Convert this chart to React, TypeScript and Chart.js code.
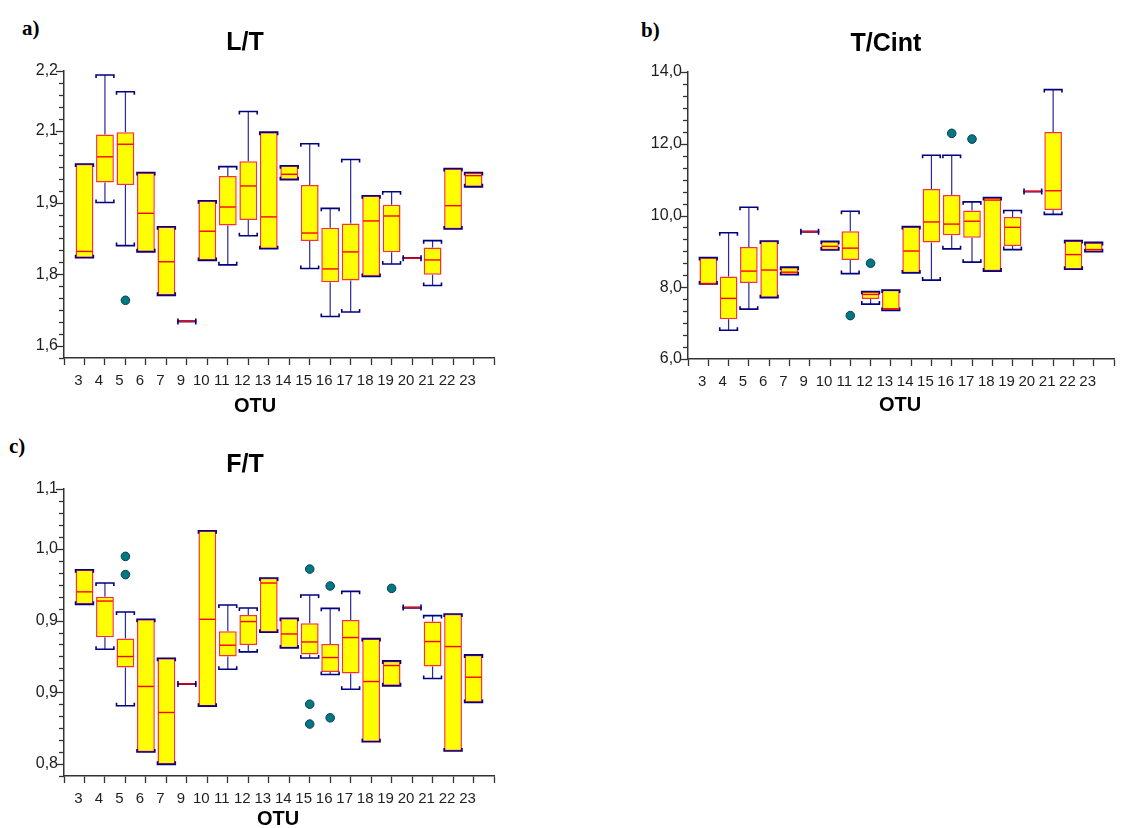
import React, { useEffect, useRef } from 'react';
import { Chart, registerables } from 'chart.js';

Chart.register(...registerables);

// ---------- data ----------
const OTU = ['3', '4', '5', '6', '7', '9', '10', '11', '12', '13', '14', '15', '16', '17', '18', '19', '20', '21', '22', '23'];

// a) L/T
const LT_LO = [1.797, 1.920, 1.824, 1.810, 1.713, 1.655, 1.791, 1.781, 1.846, 1.817, 1.971, 1.773, 1.666, 1.676, 1.755, 1.783, 1.796, 1.735, 1.861, 1.955];
const LT_Q1 = [1.797, 1.9645, 1.959, 1.810, 1.713, 1.655, 1.791, 1.869, 1.881, 1.817, 1.971, 1.834, 1.742, 1.746, 1.755, 1.809, 1.796, 1.759, 1.861, 1.955];
const LT_MED = [1.811, 2.022, 2.050, 1.896, 1.788, 1.655, 1.856, 1.910, 1.957, 1.888, 1.983, 1.852, 1.772, 1.810, 1.879, 1.890, 1.796, 1.792, 1.913, 1.980];
const LT_Q3 = [2.006, 2.072, 2.077, 1.987, 1.866, 1.655, 1.924, 1.979, 2.012, 2.077, 2.002, 1.959, 1.864, 1.873, 1.935, 1.915, 1.796, 1.820, 1.996, 1.987];
const LT_HI = [2.006, 2.2045, 2.167, 1.987, 1.866, 1.655, 1.924, 2.000, 2.123, 2.077, 2.002, 2.051, 1.907, 2.016, 1.935, 1.944, 1.796, 1.835, 1.996, 1.987];
const LT_OUT_OTU = ['5'];
const LT_OUT_VAL = [1.702];
const LT_TICK_VALUES = [1.6, 1.76, 1.92, 2.08, 2.21333];
const LT_TICK_LABELS = ['1,6', '1,8', '1,9', '2,1', '2,2'];
const LT_RANGE = [1.57333, 2.21333];

// b) T/Cint
const TC_LO = [8.09, 6.80, 7.39, 7.71, 8.35, 9.55, 9.04, 8.38, 7.53, 7.35, 8.40, 8.20, 9.07, 8.70, 8.45, 9.05, 10.67, 10.03, 8.50, 8.99];
const TC_Q1 = [8.09, 7.11, 8.12, 7.71, 8.35, 9.55, 9.04, 8.76, 7.67, 7.35, 8.40, 9.25, 9.45, 9.38, 8.45, 9.15, 10.67, 10.15, 8.50, 8.99];
const TC_MED = [8.10, 7.69, 8.45, 8.48, 8.42, 9.55, 9.14, 9.09, 7.80, 7.40, 9.01, 9.82, 9.76, 9.84, 10.43, 9.67, 10.67, 10.69, 8.91, 9.05];
const TC_Q3 = [8.83, 8.30, 9.12, 9.29, 8.56, 9.55, 9.28, 9.56, 7.88, 7.92, 9.69, 10.74, 10.57, 10.14, 10.50, 9.96, 10.67, 12.33, 9.30, 9.25];
const TC_HI = [8.83, 9.52, 10.23, 9.29, 8.56, 9.55, 9.28, 10.12, 7.88, 7.92, 9.69, 11.68, 11.68, 10.38, 10.50, 10.14, 10.67, 13.51, 9.30, 9.25];
const TC_OUT_OTU = ['11', '12', '16', '17'];
const TC_OUT_VAL = [7.21, 8.67, 12.29, 12.13];
const TC_TICK_VALUES = [6, 8, 10, 12, 14];
const TC_TICK_LABELS = ['6,0', '8,0', '10,0', '12,0', '14,0'];
const TC_RANGE = [6, 14];

// c) F/T
const FT_LO = [0.9558, 0.912, 0.8568, 0.8117, 0.7997, 0.8782, 0.8565, 0.8925, 0.9094, 0.9286, 0.9133, 0.9035, 0.8874, 0.873, 0.8217, 0.8763, 0.9526, 0.8835, 0.8127, 0.8601];
const FT_Q1 = [0.9558, 0.9237, 0.8942, 0.8117, 0.7997, 0.8782, 0.8565, 0.9049, 0.9162, 0.9286, 0.9133, 0.9068, 0.8899, 0.8883, 0.8217, 0.8763, 0.9526, 0.8952, 0.8127, 0.8601];
const FT_MED = [0.968, 0.959, 0.9049, 0.8757, 0.8503, 0.8782, 0.9412, 0.9159, 0.939, 0.9766, 0.9269, 0.9191, 0.9039, 0.9234, 0.8805, 0.8961, 0.9526, 0.9195, 0.9146, 0.8847];
const FT_Q3 = [0.9896, 0.9633, 0.9224, 0.9412, 0.9032, 0.8782, 1.0276, 0.9295, 0.9454, 0.9815, 0.9422, 0.9373, 0.9172, 0.9406, 0.9224, 0.9006, 0.9526, 0.939, 0.9464, 0.9065];
const FT_HI = [0.9896, 0.9766, 0.9483, 0.9412, 0.9032, 0.8782, 1.0276, 0.9552, 0.9522, 0.9815, 0.9422, 0.9649, 0.9519, 0.9685, 0.9224, 0.9006, 0.9526, 0.9448, 0.9464, 0.9065];
const FT_OUT_OTU = ['5', '5', '15', '15', '15', '16', '16', '19'];
const FT_OUT_VAL = [1.0026, 0.9848, 0.9902, 0.8584, 0.839, 0.9737, 0.8451, 0.9714];
const FT_TICK_VALUES = [0.8, 0.87, 0.94, 1.01, 1.06833];
const FT_TICK_LABELS = ['0,8', '0,9', '0,9', '1,0', '1,1'];
const FT_RANGE = [0.78833, 1.06833];

// ---------- styling ----------
const SANS = "'Liberation Sans', Arial, sans-serif";
const SERIF = "'Liberation Serif', 'Times New Roman', serif";
const BOX_FILL = '#FFFF00';
const BOX_EDGE = '#FF3030';
const MEDIAN = '#FF0000';
const WHISKER = '#2a2a9a';
const CAP = '#000080';
const OUTLIER = '#00797c';
const AXIS = '#333333';
const TEXT = '#1e1e1e';
const BAR_FRAC = 0.87;

type Spec = {
  lo: number[]; q1: number[]; med: number[]; q3: number[]; hi: number[];
  outOtu: string[]; outVal: number[];
  tickValues: number[]; tickLabels: string[]; range: number[];
  left: number; top: number; width: number; height: number; padTop: number; padRight: number;
};

function BoxPanel({ spec }: { spec: Spec }) {
  const ref = useRef<HTMLCanvasElement | null>(null);
  useEffect(() => {
    if (!ref.current) return;
    const n = OTU.length;
    const minor = (spec.tickValues[1] - spec.tickValues[0]) / 6;
    const majorIndex = (v: number) => spec.tickValues.findIndex((t) => Math.abs(t - v) < minor / 3);

    const boxPlugin = {
      id: 'boxWhiskers',
      afterDatasetDraw(chart: any, args: any) {
        if (args.index !== 0) return;
        const ctx = chart.ctx;
        const xs = chart.scales.x;
        const ys = chart.scales.y;
        const half = ((xs.getPixelForValue(1) - xs.getPixelForValue(0)) * BAR_FRAC) / 2;
        ctx.save();
        ctx.lineCap = 'butt';
        for (let i = 0; i < n; i++) {
          const cx = xs.getPixelForValue(i);
          const yLo = ys.getPixelForValue(spec.lo[i]);
          const yQ1 = ys.getPixelForValue(spec.q1[i]);
          const yMed = ys.getPixelForValue(spec.med[i]);
          const yQ3 = ys.getPixelForValue(spec.q3[i]);
          const yHi = ys.getPixelForValue(spec.hi[i]);
          // whisker stems
          ctx.strokeStyle = WHISKER;
          ctx.lineWidth = 1.2;
          ctx.beginPath();
          if (spec.hi[i] > spec.q3[i]) { ctx.moveTo(cx, yQ3); ctx.lineTo(cx, yHi); }
          if (spec.lo[i] < spec.q1[i]) { ctx.moveTo(cx, yQ1); ctx.lineTo(cx, yLo); }
          ctx.stroke();
          // caps with small end serifs
          ctx.strokeStyle = CAP;
          ctx.lineWidth = 1.6;
          const cap = (y: number, dir: number) => {
            ctx.beginPath();
            ctx.moveTo(cx - half, y + dir * 3);
            ctx.lineTo(cx - half, y);
            ctx.lineTo(cx + half, y);
            ctx.lineTo(cx + half, y + dir * 3);
            ctx.stroke();
          };
          cap(yHi, 1);
          cap(yLo, -1);
          // median
          ctx.strokeStyle = MEDIAN;
          ctx.lineWidth = 1.4;
          ctx.beginPath();
          ctx.moveTo(cx - half + 1, yMed);
          ctx.lineTo(cx + half - 1, yMed);
          ctx.stroke();
        }
        ctx.restore();
      },
      afterDraw(chart: any) {
        const ctx = chart.ctx;
        const ys = chart.scales.y;
        const ax = chart.chartArea.left;
        ctx.save();
        ctx.strokeStyle = AXIS;
        ctx.lineWidth = 1.3;
        for (const t of ys.ticks) {
          const py = Math.round(ys.getPixelForValue(t.value)) + 0.5;
          const len = majorIndex(t.value) >= 0 ? 8 : 5;
          ctx.beginPath();
          ctx.moveTo(ax - len, py);
          ctx.lineTo(ax, py);
          ctx.stroke();
        }
        ctx.restore();
      },
    };

    const chart = new Chart(ref.current, {
      type: 'bar',
      data: {
        datasets: [
          {
            type: 'bar',
            data: OTU.map((_, i) => ({ x: i, y: spec.q1[i] === spec.q3[i] ? null : [spec.q1[i], spec.q3[i]] })) as any,
            backgroundColor: BOX_FILL,
            borderColor: BOX_EDGE,
            borderWidth: 1.5,
            borderSkipped: false,
            barPercentage: BAR_FRAC,
            categoryPercentage: 1,
          } as any,
          {
            type: 'scatter',
            data: spec.outOtu.map((o, j) => ({ x: OTU.indexOf(o), y: spec.outVal[j] })),
            pointRadius: 4.3,
            pointBackgroundColor: OUTLIER,
            pointBorderColor: '#123a6a',
            pointBorderWidth: 1,
          } as any,
        ],
      },
      options: {
        animation: false,
        responsive: false,
        devicePixelRatio: 1,
        events: [],
        layout: { padding: { top: spec.padTop, right: spec.padRight, left: 0, bottom: 0 } },
        plugins: { legend: { display: false }, tooltip: { enabled: false }, title: { display: false } },
        scales: {
          x: {
            type: 'linear',
            min: -1,
            max: n,
            offset: false,
            afterBuildTicks: (s: any) => {
              s.ticks = Array.from({ length: n + 2 }, (_, i) => ({ value: i - 1 }));
            },
            afterFit: (s: any) => { s.height = 40; },
            ticks: {
              autoSkip: false,
              maxRotation: 0,
              minRotation: 0,
              padding: 7,
              labelOffset: -6,
              color: TEXT,
              font: { family: SANS, size: 15 },
              callback: (v: any) => {
                const lab = OTU[v as number];
                return lab === undefined ? '' : lab;
              },
            },
            grid: { display: true, drawOnChartArea: false, drawTicks: true, tickLength: 7, tickColor: AXIS, tickWidth: 1.3, offset: false },
            border: { display: true, color: AXIS, width: 1.5 },
          },
          y: {
            type: 'linear',
            min: spec.range[0],
            max: spec.range[1],
            afterBuildTicks: (s: any) => {
              const k = Math.round((spec.range[1] - spec.range[0]) / minor);
              s.ticks = Array.from({ length: k + 1 }, (_, i) => ({ value: spec.range[0] + i * minor }));
            },
            afterFit: (s: any) => { s.width = 64; },
            ticks: {
              autoSkip: false,
              padding: 6,
              color: TEXT,
              font: { family: SANS, size: 16 },
              callback: (v: any) => {
                const idx = majorIndex(v as number);
                return idx >= 0 ? spec.tickLabels[idx] : '';
              },
            },
            grid: { display: true, drawOnChartArea: false, drawTicks: false },
            border: { display: true, color: AXIS, width: 1.5 },
          },
        },
      } as any,
      plugins: [boxPlugin],
    });
    return () => chart.destroy();
  }, [spec]);

  return (
    <canvas
      ref={ref}
      width={spec.width}
      height={spec.height}
      style={{ position: 'absolute', left: spec.left, top: spec.top, width: spec.width, height: spec.height }}
    />
  );
}

function Label({ text, x, y, size, bold = true, serif = false, center = true }: { text: string; x: number; y: number; size: number; bold?: boolean; serif?: boolean; center?: boolean }) {
  return (
    <div
      style={{
        position: 'absolute',
        left: x,
        top: y,
        transform: center ? 'translate(-50%, -50%)' : 'translate(0, -50%)',
        fontFamily: serif ? SERIF : SANS,
        fontWeight: bold ? 700 : 400,
        fontSize: size,
        lineHeight: 1,
        whiteSpace: 'nowrap',
        color: '#000',
      }}
    >
      {text}
    </div>
  );
}

const SPEC_A: Spec = {
  lo: LT_LO, q1: LT_Q1, med: LT_MED, q3: LT_Q3, hi: LT_HI, outOtu: LT_OUT_OTU, outVal: LT_OUT_VAL,
  tickValues: LT_TICK_VALUES, tickLabels: LT_TICK_LABELS, range: LT_RANGE,
  left: 0, top: 50, width: 510, height: 348, padTop: 21, padRight: 16,
};
const SPEC_B: Spec = {
  lo: TC_LO, q1: TC_Q1, med: TC_MED, q3: TC_Q3, hi: TC_HI, outOtu: TC_OUT_OTU, outVal: TC_OUT_VAL,
  tickValues: TC_TICK_VALUES, tickLabels: TC_TICK_LABELS, range: TC_RANGE,
  left: 624, top: 50, width: 497, height: 349, padTop: 22, padRight: 3,
};
const SPEC_C: Spec = {
  lo: FT_LO, q1: FT_Q1, med: FT_MED, q3: FT_Q3, hi: FT_HI, outOtu: FT_OUT_OTU, outVal: FT_OUT_VAL,
  tickValues: FT_TICK_VALUES, tickLabels: FT_TICK_LABELS, range: FT_RANGE,
  left: 0, top: 470, width: 510, height: 346, padTop: 19, padRight: 16,
};

export default function App() {
  return (
    <div style={{ position: 'absolute', left: 0, top: 0, width: 1121, height: 828, background: '#fff', overflow: 'hidden' }}>
      <BoxPanel spec={SPEC_A} />
      <BoxPanel spec={SPEC_B} />
      <BoxPanel spec={SPEC_C} />
      <Label text="a)" x={22} y={28} size={21} serif center={false} />
      <Label text="L/T" x={245} y={41} size={25} />
      <Label text="OTU" x={255} y={405} size={20} />
      <Label text="b)" x={641} y={30} size={21} serif center={false} />
      <Label text="T/Cint" x={886} y={42} size={25} />
      <Label text="OTU" x={900} y={404} size={20} />
      <Label text="c)" x={9} y={446} size={21} serif center={false} />
      <Label text="F/T" x={245} y={463} size={25} />
      <Label text="OTU" x={278} y={818} size={20} />
    </div>
  );
}
